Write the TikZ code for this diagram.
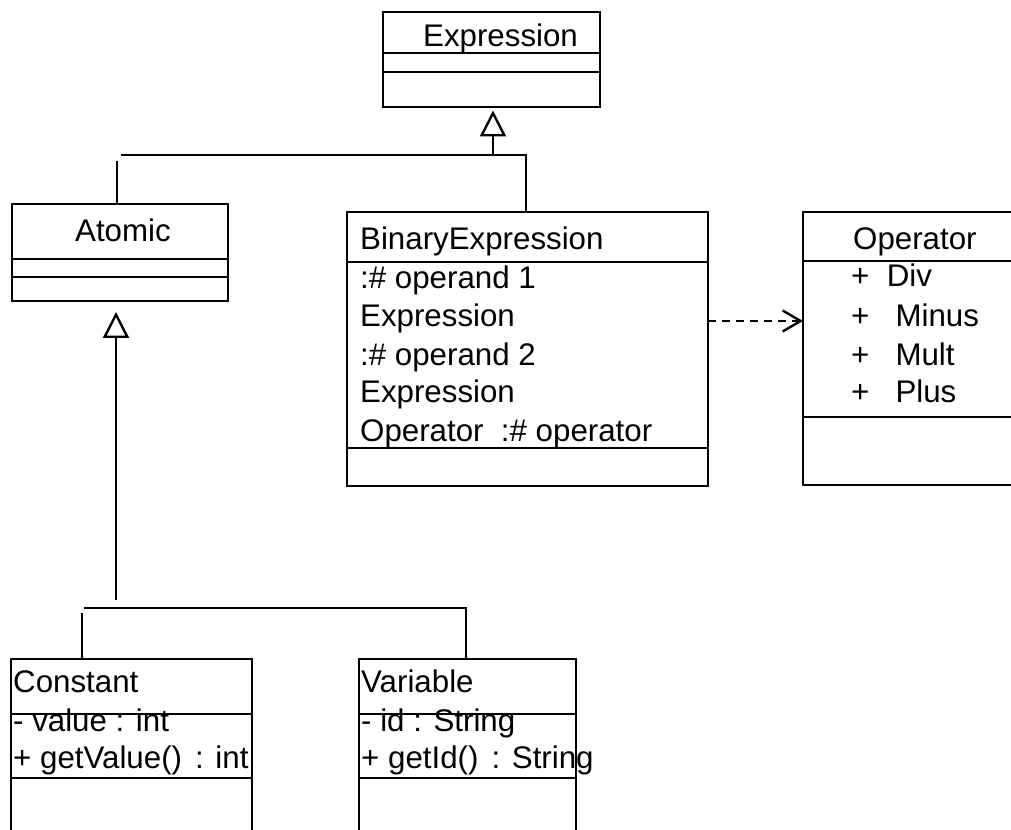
\documentclass[tikz,border=0pt]{standalone}
\usepackage{fontspec}
\setmainfont{Liberation Sans}
\usetikzlibrary{arrows.meta}

\begin{document}
\begin{tikzpicture}[x=0.02cm,y=-0.02cm,line width=1.35pt,
  class box/.style={draw,anchor=north west,inner sep=0pt,outer sep=0pt},
  label text/.style={anchor=base west,inner sep=0pt,font=\fontsize{17.8}{21}\selectfont},
  inherit/.style={-{Triangle[open,length=0.52cm,width=0.52cm,line width=1.35pt]}},
  depend/.style={dash pattern=on 4.5pt off 3.5pt,-{Straight Barb[length=0.36cm,width=0.42cm]}}]
  \useasboundingbox (0,0) rectangle (1011,830);
  \clip (0,0) rectangle (1011,830);

  % class boxes
  \node[class box,minimum width=4.34cm,minimum height=1.9cm] (expr) at (383,12) {};
  \node[class box,minimum width=4.32cm,minimum height=1.94cm] (atomic) at (12,204) {};
  \node[class box,minimum width=7.22cm,minimum height=5.48cm] (bin) at (347,212) {};
  \node[class box,minimum width=4.6cm,minimum height=5.46cm] (oper) at (803,212) {};
  \node[class box,minimum width=4.82cm,minimum height=3.9cm] (const) at (11,659) {};
  \node[class box,minimum width=4.34cm,minimum height=3.9cm] (var) at (359,659) {};

  % compartments
  \foreach \n/\a/\b in {expr/41/60,atomic/55/73,bin/50/236,oper/49/205,const/55/119,var/55/119}{
    \draw (\n.north west) ++(0,\a) coordinate (a) (\n.north east) ++(0,\a) coordinate (b);
    \draw (a) -- (b);
    \draw (\n.north west) ++(0,\b) coordinate (a) (\n.north east) ++(0,\b) coordinate (b);
    \draw (a) -- (b);
  }

  % texts
  \node[label text] (exprname) at (422,47) {Expression};
  \node[label text] (atomicname) at (74,242) {Atomic};

  \node[label text] (binname) at (359,250) {BinaryExpression};
  \node[label text] (op1) at (359,289) {:\# operand 1};
  \node[label text] (op1type) at (359,327) {Expression};
  \node[label text] (op2) at (359,366) {:\# operand 2};
  \node[label text] (op2type) at (359,403) {Expression};
  \node[label text] (opattr) at (359,442) {Operator\ \ :\# operator};

  \node[label text] (opername) at (852,250) {Operator};
  \node[label text] (div) at (850,287) {+\ \ Div};
  \node[label text] (minus) at (850,327) {+\ \ \ Minus};
  \node[label text] (mult) at (850,366) {+\ \ \ Mult};
  \node[label text] (plus) at (850,403) {+\ \ \ Plus};

  \node[label text] (constname) at (12,693) {Constant};
  \node[label text] (constattr) at (12,732) {- value : int};
  \node[label text] (constop) at (12,768) {+ getValue()\hspace{0.42em}: int};

  \node[label text] (varname) at (360,693) {Variable};
  \node[label text] (varattr) at (360,732) {- id : String};
  \node[label text] (varop) at (360,768) {+ getId()\hspace{0.42em}: String};

  % generalisations
  \coordinate (topstem) at (493,155);
  \coordinate (topbar west) at (121,155);
  \coordinate (topbar east) at (526,155);
  \coordinate (atomicstem) at (117,161);
  \draw[inherit,shorten >=2pt] (topstem) -- (expr.south -| topstem);
  \draw (topbar west) -- (topbar east) -- (bin.north -| topbar east);
  \draw (atomicstem) -- (atomic.north -| atomicstem);

  \coordinate (lowstem) at (116,600);
  \coordinate (lowbar west) at (84,608);
  \coordinate (lowbar east) at (466,608);
  \coordinate (conststem) at (82,613);
  \draw[inherit,shorten >=0.22cm] (lowstem) -- (atomic.south -| lowstem);
  \draw (lowbar west) -- (lowbar east) -- (var.north -| lowbar east);
  \draw (conststem) -- (const.north -| conststem);

  % dependency
  \coordinate (deplevel) at (0,321);
  \draw[depend] (bin.east |- deplevel) -- (oper.west |- deplevel);
\end{tikzpicture}
\end{document}
